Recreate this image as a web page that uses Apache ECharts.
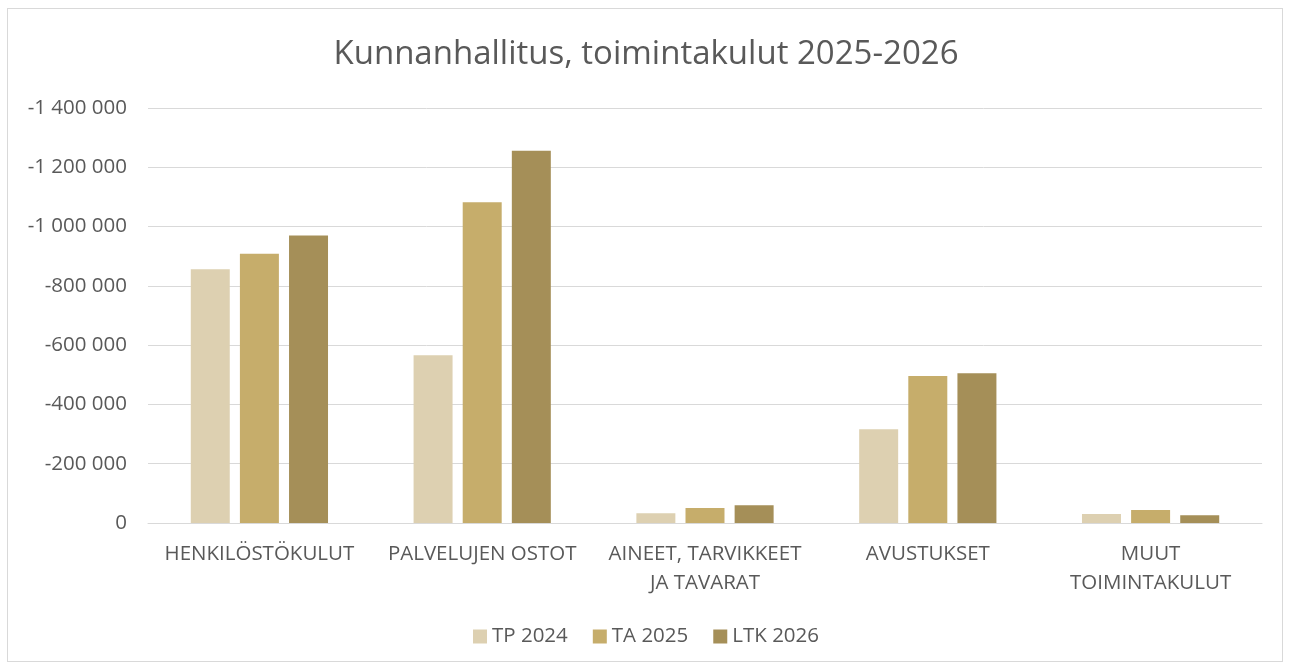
<!DOCTYPE html>
<html><head><meta charset="utf-8">
<script src="https://cdn.jsdelivr.net/npm/echarts@6/dist/echarts.min.js"></script>
<style>
html,body{margin:0;padding:0;background:#fff;}
#c{width:1292px;height:668px;}
#frame{position:absolute;left:7px;top:8px;width:1276px;height:654px;border:1px solid #d9d9d9;box-sizing:border-box;pointer-events:none;}
</style></head>
<body>
<div id="c"></div><div id="frame"></div>
<script>
const categories = ['HENKILÖSTÖKULUT', 'PALVELUJEN OSTOT', 'AINEET, TARVIKKEET\nJA TAVARAT', 'AVUSTUKSET', 'MUUT\nTOIMINTAKULUT'];
const seriesNames = ['TP 2024', 'TA 2025', 'LTK 2026'];
const tp2024 = [-856000, -566000, -33000, -316000, -30000];
const ta2025 = [-908000, -1082000, -51000, -496000, -44000];
const ltk2026 = [-970000, -1256000, -60000, -505000, -26000];
const yTicks = [0, -200000, -400000, -600000, -800000, -1000000, -1200000, -1400000];

const FONT = '"Open Sans", sans-serif';
const colors = ['#ddd0b1', '#c6ad6b', '#a58f58'];
const fmt = v => {
  const s = Math.abs(v).toString().replace(/\B(?=(\d{3})+(?!\d))/g, ' ');
  return (v < 0 ? '-' : '') + s;
};
const chart = echarts.init(document.getElementById('c'));
chart.setOption({
  animation: false,
  textStyle: {fontFamily: FONT},
  title: {
    text: 'Kunnanhallitus, toimintakulut 2025-2026',
    left: 'center', top: 33,
    textStyle: {fontFamily: FONT, fontSize: 33, fontWeight: 'normal', color: '#595959'}
  },
  legend: {
    data: seriesNames, bottom: 16, left: 'center',
    itemWidth: 14, itemHeight: 14, itemGap: 25, icon: 'rect',
    textStyle: {fontFamily: FONT, fontSize: 20.5, color: '#595959'}
  },
  grid: {left: 148, right: 30, top: 108, bottom: 145, containLabel: false},
  xAxis: {
    type: 'category', data: categories,
    axisLine: {lineStyle: {color: '#d9d9d9', width: 1}},
    axisTick: {show: false},
    axisLabel: {fontFamily: FONT, fontSize: 20.5, color: '#595959', margin: 17, lineHeight: 29, interval: 0}
  },
  yAxis: {
    type: 'value', inverse: true, min: -1400000, max: 0, interval: 200000,
    axisLine: {show: false}, axisTick: {show: false},
    splitLine: {lineStyle: {color: '#d9d9d9', width: 1}},
    axisLabel: {fontFamily: FONT, fontSize: 20.5, color: '#595959', margin: 21, formatter: fmt}
  },
  series: [
    {name: seriesNames[0], type: 'bar', data: tp2024, itemStyle: {color: colors[0]}, barWidth: '17.5%', barGap: '26%'},
    {name: seriesNames[1], type: 'bar', data: ta2025, itemStyle: {color: colors[1]}, barWidth: '17.5%', barGap: '26%'},
    {name: seriesNames[2], type: 'bar', data: ltk2026, itemStyle: {color: colors[2]}, barWidth: '17.5%', barGap: '26%'}
  ]
});
</script>
</body></html>
